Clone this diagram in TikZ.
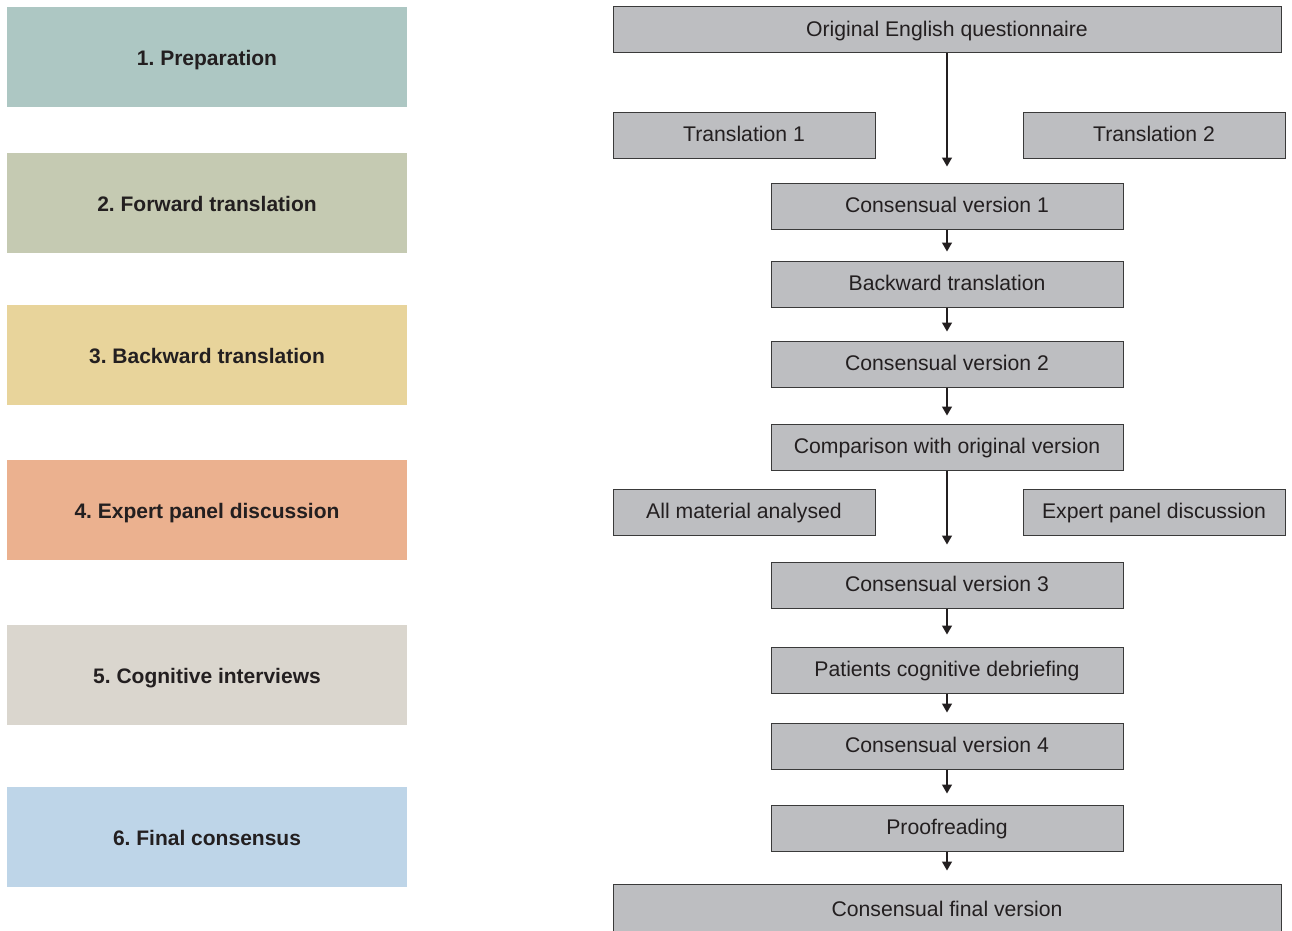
\documentclass[tikz,border=0pt]{standalone}
\usepackage{fontspec}
\setmainfont{Liberation Sans}
\usetikzlibrary{arrows.meta}
\definecolor{txt}{HTML}{231F20}
\definecolor{grayfill}{HTML}{BDBEC1}
\definecolor{grayedge}{HTML}{3A3A3A}
\definecolor{cA}{HTML}{ADC7C3}
\definecolor{cB}{HTML}{C5CAB2}
\definecolor{cC}{HTML}{E8D49B}
\definecolor{cD}{HTML}{EBB18F}
\definecolor{cE}{HTML}{DAD6CE}
\definecolor{cF}{HTML}{BED5E8}
\tikzset{
  phase/.style={minimum width=400pt, minimum height=100pt, inner sep=0pt, text=txt,
    text height=16pt, text depth=0pt,
    font=\fontsize{21}{24}\selectfont\bfseries},
  grey/.style={draw=grayedge, line width=1pt, fill=grayfill, inner sep=0pt, text=txt,
    text height=15pt, text depth=2pt,
    minimum height=46pt, font=\fontsize{21.2}{24}\selectfont},
  wide/.style={grey, minimum width=668pt},
  mid/.style={grey, minimum width=352pt},
  side/.style={grey, minimum width=262pt},
  flow/.style={draw=txt, line width=1.3pt, -{Triangle[width=10pt,length=9pt]}},
}
\frenchspacing
\begin{document}
\begin{tikzpicture}[x=1pt,y=-1pt]
\useasboundingbox (0,0) rectangle (1292,930);
% phases
\node[phase, fill=cA] (p1) at (207,57) {1. Preparation};
\node[phase, fill=cB] (p2) at (207,203) {2. Forward translation};
\node[phase, fill=cC] (p3) at (207,355) {3. Backward translation};
\node[phase, fill=cD] (p4) at (207,510) {4. Expert panel discussion};
\node[phase, fill=cE] (p5) at (207,675) {5. Cognitive interviews};
\node[phase, fill=cF] (p6) at (207,837) {6. Final consensus};
% flow
\node[wide] (orig) at (947,29.5) {Original English questionnaire};
\node[side] (t1) at (744,135) {Translation 1};
\node[side] (t2) at (1154,135) {Translation 2};
\node[mid] (cv1) at (947,206) {Consensual version 1};
\node[mid] (back) at (947,284) {Backward translation};
\node[mid] (cv2) at (947,364) {Consensual version 2};
\node[mid] (comp) at (947,447) {Comparison with original version};
\node[side] (allm) at (744,512) {All material analysed};
\node[side] (expert) at (1154,512) {Expert panel discussion};
\node[mid] (cv3) at (947,585) {Consensual version 3};
\node[mid] (pat) at (947,670) {Patients cognitive debriefing};
\node[mid] (cv4) at (947,746) {Consensual version 4};
\node[mid] (proof) at (947,828) {Proofreading};
\node[wide, minimum height=52pt] (final) at (947,910) {Consensual final version};
% connectors
\draw[flow, shorten >=16pt] (orig) -- (cv1);
\draw[flow, shorten >=9pt] (cv1) -- (back);
\draw[flow, shorten >=9pt] (back) -- (cv2);
\draw[flow, shorten >=8pt] (cv2) -- (comp);
\draw[flow, shorten >=17pt] (comp) -- (cv3);
\draw[flow, shorten >=12pt] (cv3) -- (pat);
\draw[flow, shorten >=10pt] (pat) -- (cv4);
\draw[flow, shorten >=11pt] (cv4) -- (proof);
\draw[flow, shorten >=13pt] (proof) -- (final);
\end{tikzpicture}
\end{document}
